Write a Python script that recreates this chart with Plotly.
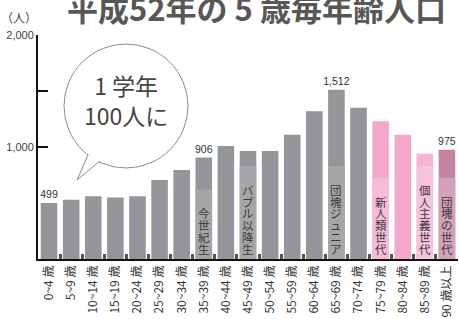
import plotly.graph_objects as go

# ---- data ----
age_groups = ["0~4 歳", "5~9 歳", "10~14 歳", "15~19 歳", "20~24 歳", "25~29 歳",
              "30~34 歳", "35~39 歳", "40~44 歳", "45~49 歳", "50~54 歳", "55~59 歳",
              "60~64 歳", "65~69 歳", "70~74 歳", "75~79 歳", "80~84 歳", "85~89 歳",
              "90 歳以上"]
population = [499, 530, 560, 550, 560, 705, 795, 906, 1010, 965, 965, 1110,
              1320, 1512, 1350, 1230, 1110, 940, 975]
value_labels = ["499", "", "", "", "", "", "", "906", "", "", "", "", "",
                "1,512", "", "", "", "", "975"]
generation_labels = {7: "今世紀生", 9: "バブル以降生", 13: "団塊ジュニア",
                     15: "新人類世代", 17: "個人主義世代", 18: "団塊の世代"}
y_tickvals = [1000, 1500, 2000]
y_ticktext = ["1,000", "", "2,000"]

# ---- styles ----
GRAY = "#939598"
colors = [GRAY] * 15 + ["#f3a8ca", "#f3a8ca", "#f4b4d2", "#c4849f"]
band_colors = {7: "#a4a5a7", 9: "#a5a6a8", 13: "#a5a6a8", 15: "#f6bbd6",
               17: "#f7c2da", 18: "#d2a0b7"}
BAR_W = 0.75
CJK = "Noto Sans CJK JP"

W, H = 459, 319
L, R, T, B = 38, 1, 35, 60
PW, PH = W - L - R, H - T - B


def px(xp):
    return (xp - L) / PW


def py(yp):
    return (H - B - yp) / PH


fig = go.Figure()
fig.add_trace(go.Bar(
    x=list(range(len(age_groups))), y=population, marker_color=colors,
    marker_line_width=0, width=BAR_W,
    text=value_labels, textposition="outside", cliponaxis=False,
    constraintext="none",
    textfont=dict(size=10.5, color="#333", family="Liberation Sans Narrow, Liberation Sans"),
    hoverinfo="skip",
))

shapes = []
annotations = []
CHAR_PITCH = 11.7  # px
Y_PER_PX = 2000 / PH
for i, lab in generation_labels.items():
    n = len(lab)
    top_px = 10.5 + (n - 1) * CHAR_PITCH + 6 + 18
    shapes.append(dict(type="rect", xref="x", yref="y", layer="above",
                       x0=i - BAR_W / 2, x1=i + BAR_W / 2, y0=0,
                       y1=min(top_px * Y_PER_PX, population[i] - 60),
                       fillcolor=band_colors[i], line_width=0))
    for k, ch in enumerate(lab):
        annotations.append(dict(
            x=i, y=0, xref="x", yref="y", text=ch, showarrow=False,
            yanchor="middle", xanchor="center",
            yshift=10.5 + (n - 1 - k) * CHAR_PITCH,
            font=dict(family=CJK, size=11.5, color="#3a3a3a")))

# speech bubble
cx, cy, r = 126, 106, 62
shapes.append(dict(type="circle", xref="paper", yref="paper", layer="above",
                   x0=px(cx - r), x1=px(cx + r), y0=py(cy + r), y1=py(cy - r),
                   fillcolor="white", line=dict(color="#8a8a8a", width=1)))
a = (88, 155)
tip = (77, 180)
b = (101, 160)
shapes.append(dict(type="path", xref="paper", yref="paper", layer="above",
                   path=f"M {px(a[0])} {py(a[1])} L {px(tip[0])} {py(tip[1])} L {px(b[0])} {py(b[1])}",
                   fillcolor="white", line=dict(color="#8a8a8a", width=1)))
shapes.append(dict(type="circle", xref="paper", yref="paper", layer="above",
                   x0=px(cx - r + 1.2), x1=px(cx + r - 1.2),
                   y0=py(cy + r - 1.2), y1=py(cy - r + 1.2),
                   fillcolor="white", line_width=0))

annotations.append(dict(x=px(126), y=py(100), xref="paper", yref="paper",
                        text="1 学年<br>100人に", showarrow=False,
                        xanchor="center", yanchor="middle",
                        font=dict(family=CJK, size=23, color="#444")))
# title
annotations.append(dict(x=px(256), y=py(7), xref="paper", yref="paper",
                        text="<b>平成52年の 5 歳毎年齢人口</b>", showarrow=False,
                        xanchor="center", yanchor="middle",
                        font=dict(family=CJK, size=31, color="#575757")))
# unit
annotations.append(dict(x=px(19), y=py(17), xref="paper", yref="paper",
                        text="（人）", showarrow=False,
                        xanchor="center", yanchor="middle",
                        font=dict(family=CJK, size=12, color="#444")))

fig.update_layout(
    width=W, height=H, margin=dict(l=L, r=R, t=T, b=B, autoexpand=False),
    paper_bgcolor="white", plot_bgcolor="white",
    showlegend=False, shapes=shapes, annotations=annotations,
    xaxis=dict(type="category", range=[-0.5, len(age_groups) - 0.5],
               tickvals=list(range(len(age_groups))), ticktext=age_groups,
               tickangle=-90, tickson="boundaries", ticks="inside", ticklen=5,
               tickwidth=3, tickcolor="#555", showline=True, linecolor="#111",
               linewidth=1.5, showgrid=False, zeroline=False, automargin=False,
               tickfont=dict(family=CJK, size=12, color="#333")),
    yaxis=dict(range=[0, 2000], tickvals=y_tickvals, ticktext=y_ticktext,
               ticks="inside", ticklen=10, tickwidth=2, tickcolor="#111",
               showline=True, linecolor="#111", linewidth=2, automargin=False,
               showgrid=False, zeroline=False,
               tickfont=dict(family="Liberation Sans Narrow, Liberation Sans", size=11, color="#444")),
)

fig.write_html("out.html", config={"displayModeBar": False},
               post_script="document.body.style.margin='0';document.body.style.overflow='hidden';")
